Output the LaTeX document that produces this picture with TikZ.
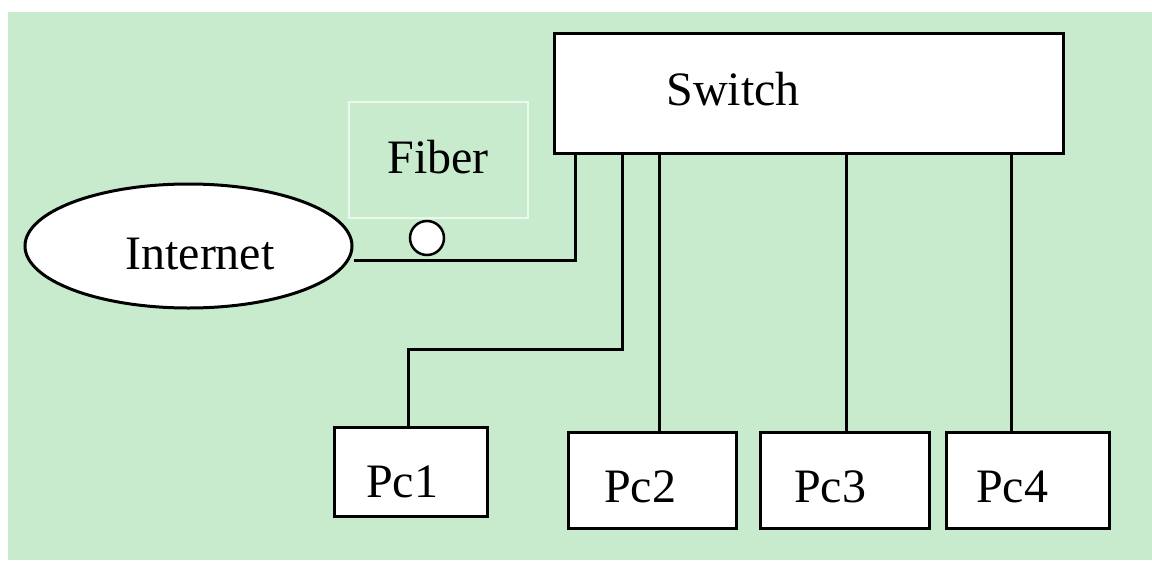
\documentclass[tikz,border=0pt]{standalone}
\usepackage{fontspec}
\setmainfont{Liberation Serif}
\usetikzlibrary{shapes.geometric}
\definecolor{bggreen}{RGB}{199,235,204}
\definecolor{fiberedge}{RGB}{235,248,237}
\tikzset{
  wire/.style={draw=black, line width=3pt},
  box/.style={draw=black, line width=3pt, fill=white, rectangle, inner sep=0pt},
  lbl/.style={font=\fontsize{48}{58}\selectfont, inner sep=0pt, anchor=base},
}
\begin{document}
\begin{tikzpicture}[x=1pt,y=-1pt]
\useasboundingbox (0,0) rectangle (1152,560);
\fill[white] (0,0) rectangle (1152,560);
\fill[bggreen] (8,12) rectangle (1152,560);
% Fiber box (faint outline)
\draw[fiberedge, line width=2pt] (349,102) rectangle (528,218);
\node[lbl] (fibertxt) at (438,173) {Fiber};
% Switch
\node[box, minimum width=509pt, minimum height=120pt] (sw) at (808.5,93) {};
\node[lbl] (swtxt) at (733,105) {Switch};
% Internet
\node[ellipse, draw=black, line width=3pt, fill=white, minimum width=327pt, minimum height=124pt, inner sep=0pt] (inet) at (188.5,246) {};
\node[lbl] (inettxt) at (200,269) {Internet};
% PCs
\node[box, minimum width=153pt, minimum height=89pt] (pc1) at (410.5,471.5) {};
\node[lbl] (pc1t) at (402,497) {Pc1};
\node[box, minimum width=168pt, minimum height=96pt] (pc2) at (652,480) {};
\node[lbl] (pc2t) at (640,502) {Pc2};
\node[box, minimum width=169pt, minimum height=96pt] (pc3) at (845,480) {};
\node[lbl] (pc3t) at (830,502) {Pc3};
\node[box, minimum width=163pt, minimum height=96pt] (pc4) at (1027.5,480) {};
\node[lbl] (pc4t) at (1012,502) {Pc4};
% connectors
\coordinate (a1) at (575,260);
\draw[wire] (inet.east |- a1) -- (a1) -- (a1 |- sw.south);
\node[circle, draw=black, line width=2.5pt, fill=white, minimum size=34pt, inner sep=0pt] (fib) at (427,238) {};
\coordinate (b1) at (622,349);
\coordinate (b2) at (408,349);
\draw[wire] (b1 |- sw.south) -- (b1) -- (b2) -- (b2 |- pc1.north);
\coordinate (c2) at (659,153);
\draw[wire] (c2) -- (c2 |- pc2.north);
\coordinate (c3) at (846,153);
\draw[wire] (c3) -- (c3 |- pc3.north);
\coordinate (c4) at (1011,153);
\draw[wire] (c4) -- (c4 |- pc4.north);
\end{tikzpicture}
\end{document}
